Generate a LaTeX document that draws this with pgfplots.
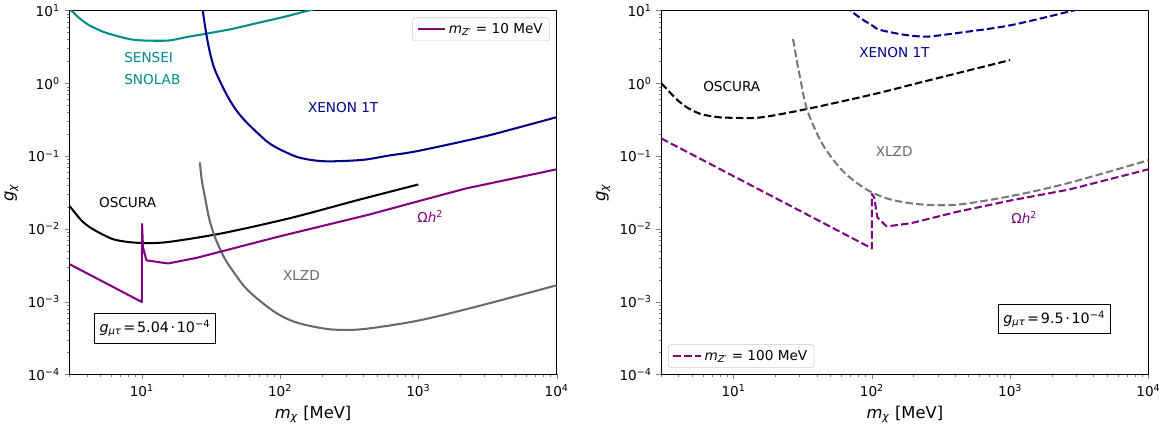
\documentclass[border=0pt]{standalone}
\usepackage{fontspec}
\setmainfont{DejaVu Sans}
\usepackage{pgfplots}
\pgfplotsset{compat=1.18}
\definecolor{mplteal}{RGB}{0,139,139}
\definecolor{mplnavy}{RGB}{0,0,139}
\definecolor{mplpurple}{RGB}{128,0,128}
\definecolor{mplgray}{RGB}{105,105,105}
\definecolor{legframe}{RGB}{204,204,204}

\tikzset{
  dashd/.style={dash pattern=on 5.5pt off 2.4pt},
  ann/.style={font=\fontsize{10}{12}\selectfont},
  gbox/.style={draw=black, line width=0.7pt, fill=white, inner xsep=3.5pt, inner ysep=4.5pt, font=\fontsize{10.5}{12}\selectfont},
}
\newcommand{\gsp}{\hspace{0.12em}}

\begin{document}
\begin{tikzpicture}
% ---------------- left panel: m_Z' = 10 MeV
\begin{axis}[
    scale only axis, width=358pt, height=267.4pt,
    xmode=log, ymode=log,
    xmin=3, xmax=10000, ymin=0.0001, ymax=10,
    axis line style={line width=0.6pt},
    tick align=outside, xtick pos=left, ytick pos=left,
    major tick length=3.6pt, minor tick length=2pt,
    xtick={10,100,1000,10000},
    xticklabels={10\textsuperscript{1},10\textsuperscript{2},10\textsuperscript{3},10\textsuperscript{4}},
    minor xtick={3,4,5,6,7,8,9,20,30,40,50,60,70,80,90,200,300,400,500,600,700,800,900,2000,3000,4000,5000,6000,7000,8000,9000},
    ytick={0.0001,0.001,0.01,0.1,1,10},
    yticklabels={10\textsuperscript{−4},10\textsuperscript{−3},10\textsuperscript{−2},10\textsuperscript{−1},10\textsuperscript{0},10\textsuperscript{1}},
    minor ytick={0.0002,0.0003,0.0004,0.0005,0.0006,0.0007,0.0008,0.0009,0.002,0.003,0.004,0.005,0.006,0.007,0.008,0.009,0.02,0.03,0.04,0.05,0.06,0.07,0.08,0.09,0.2,0.3,0.4,0.5,0.6,0.7,0.8,0.9,2,3,4,5,6,7,8,9},
    tick label style={font=\fontsize{10}{12}\selectfont},
    label style={font=\fontsize{12}{14}\selectfont},
    xlabel={\textit{m}\textsubscript{\textit{χ}} [MeV]},
    ylabel={\textit{g}\textsubscript{\textit{χ}}},
    legend cell align=left,
    legend image post style={xscale=1.18},
    legend style={at={(0.986,0.981)}, anchor=north east,
      font=\fontsize{10}{12}\selectfont, draw=legframe, rounded corners=2pt,
      fill=white, inner xsep=3pt, inner ysep=2pt}]
  \addplot[mplteal, line width=1.5pt, smooth, tension=0.5, forget plot] coordinates {
    (3.0,11.0) (3.1,10) (3.5,8.0) (4.1,6.4) (4.8,5.5) (5.6,4.9) (7,4.35)
    (8.5,4.0) (10.4,3.88) (13,3.85) (16.1,3.9) (21.5,4.35) (29,4.8)
    (45,5.6) (67.6,6.7) (110,8.3) (160,10) (200,11)};
  \addplot[mplnavy, line width=1.5pt, smooth, tension=0.5, forget plot] coordinates {
    (27.2,12) (27.6,10) (29.2,4.91) (30.8,2.88) (32.8,1.8) (35.5,1.23)
    (41.9,0.652) (49,0.41) (58.5,0.279) (81.7,0.155) (105,0.118)
    (135,0.0964) (180,0.087) (235,0.0848) (400,0.089) (608,0.1016)
    (1000,0.118) (2820,0.181) (5000,0.24) (10000,0.343)};
  \addplot[black, line width=1.5pt, smooth, tension=0.5, forget plot] coordinates {
    (3,0.0207) (3.3,0.0165) (3.7,0.0128) (4.27,0.01035) (5.2,0.0084) (6.31,0.00714)
    (8,0.0066) (9.84,0.00641) (12.5,0.0064) (17.2,0.00678) (39.6,0.00883)
    (121,0.01422) (368,0.025) (1000,0.0408)};
  \addplot[mplgray, line width=1.5pt, smooth, tension=0.5, forget plot] coordinates {
    (26.3,0.082) (27.2,0.0458) (28.9,0.025) (30.8,0.0135) (34,0.0075)
    (39.6,0.00398) (46.5,0.0025) (55.4,0.0016) (67.6,0.00112)
    (91.5,0.00072) (120,0.00055) (160,0.00047) (240,0.000414)
    (400,0.00042) (1000,0.00055) (2820,0.000885) (10000,0.00168)};
  \addplot[mplpurple, line width=1.5pt, line join=round] coordinates {
    (3,0.00328) (10,0.00099) (10.05,0.0117) (10.2,0.0056) (10.8,0.0037)
    (15.5,0.00335) (24.9,0.0040) (98,0.00785) (437,0.01567) (1000,0.024)
    (2200,0.0359) (10000,0.0659)};
  \addlegendentry{\textit{m}\textsubscript{\textit{Z}′} = 10 MeV}

  \node[ann, mplteal, anchor=west] at (axis cs:6.9,2.28) {SENSEI};
  \node[ann, mplteal, anchor=west] at (axis cs:6.9,1.14) {SNOLAB};
  \node[ann, mplnavy] at (axis cs:286,0.462) {XENON 1T};
  \node[ann, black] at (axis cs:7.9,0.0232) {OSCURA};
  \node[ann, mplpurple] at (axis cs:1220,0.0149) {Ω\textit{h}\textsuperscript{2}};
  \node[ann, mplgray] at (axis cs:142.6,0.0023) {XLZD};
  \node[gbox] at (axis cs:12.47,0.000428)
    {\textit{g}\textsubscript{\textit{μτ}}\gsp=\gsp5.04\gsp·\gsp10\textsuperscript{−4}};
\end{axis}

% ---------------- right panel: m_Z' = 100 MeV
\begin{axis}[at={(434.9pt,0pt)},
    scale only axis, width=358pt, height=267.4pt,
    xmode=log, ymode=log,
    xmin=3, xmax=10000, ymin=0.0001, ymax=10,
    axis line style={line width=0.6pt},
    tick align=outside, xtick pos=left, ytick pos=left,
    major tick length=3.6pt, minor tick length=2pt,
    xtick={10,100,1000,10000},
    xticklabels={10\textsuperscript{1},10\textsuperscript{2},10\textsuperscript{3},10\textsuperscript{4}},
    minor xtick={3,4,5,6,7,8,9,20,30,40,50,60,70,80,90,200,300,400,500,600,700,800,900,2000,3000,4000,5000,6000,7000,8000,9000},
    ytick={0.0001,0.001,0.01,0.1,1,10},
    yticklabels={10\textsuperscript{−4},10\textsuperscript{−3},10\textsuperscript{−2},10\textsuperscript{−1},10\textsuperscript{0},10\textsuperscript{1}},
    minor ytick={0.0002,0.0003,0.0004,0.0005,0.0006,0.0007,0.0008,0.0009,0.002,0.003,0.004,0.005,0.006,0.007,0.008,0.009,0.02,0.03,0.04,0.05,0.06,0.07,0.08,0.09,0.2,0.3,0.4,0.5,0.6,0.7,0.8,0.9,2,3,4,5,6,7,8,9},
    tick label style={font=\fontsize{10}{12}\selectfont},
    label style={font=\fontsize{12}{14}\selectfont},
    xlabel={\textit{m}\textsubscript{\textit{χ}} [MeV]},
    ylabel={\textit{g}\textsubscript{\textit{χ}}},
    legend cell align=left,
    legend image post style={xscale=1.18},
    legend style={at={(0.014,0.018)}, anchor=south west,
      font=\fontsize{10}{12}\selectfont, draw=legframe, rounded corners=2pt,
      fill=white, inner xsep=3pt, inner ysep=2pt}]
  \addplot[mplnavy, line width=1.5pt, dashd, smooth, tension=0.5, forget plot] coordinates {
    (64,11.5) (69.8,10) (85,7.6) (103,6.06) (113,5.46) (160,4.75) (209,4.45)
    (260,4.4) (409,4.9) (1000,6.27) (2858,10) (3500,11)};
  \addplot[black, line width=1.5pt, dashd, smooth, tension=0.5, forget plot] coordinates {
    (3,1.0) (3.4,0.78) (3.95,0.583) (4.7,0.455) (5.76,0.381) (7.5,0.345)
    (10,0.336) (15.7,0.34) (33.1,0.44) (100,0.70) (234,1.05) (1000,2.09)};
  \addplot[mplgray!90, line width=1.5pt, dashd, smooth, tension=0.5, forget plot] coordinates {
    (26.9,4.06) (28.6,2.1) (30.5,1.11) (34.1,0.427) (43.8,0.1476)
    (61.3,0.063) (90.6,0.0352) (134,0.0256) (221,0.0218) (409,0.0215)
    (1000,0.0281) (2680,0.043) (10000,0.0879)};
  \addplot[mplpurple, line width=1.5pt, line join=round, dashd] coordinates {
    (3,0.175) (100,0.0054) (100,0.0303) (104,0.0267) (109.6,0.0144)
    (128,0.0108) (193,0.012) (409,0.0171) (1000,0.0245) (2680,0.0348)
    (10000,0.066)};
  \addlegendentry{\textit{m}\textsubscript{\textit{Z}′} = 100 MeV}

  \node[ann, mplnavy] at (axis cs:145.5,2.64) {XENON 1T};
  \node[ann, black] at (axis cs:9.7,0.91) {OSCURA};
  \node[ann, mplgray] at (axis cs:145,0.1146) {XLZD};
  \node[ann, mplpurple] at (axis cs:1265,0.0144) {Ω\textit{h}\textsuperscript{2}};
  \node[gbox] at (axis cs:2085,0.000573)
    {\textit{g}\textsubscript{\textit{μτ}}\gsp=\gsp9.5\gsp·\gsp10\textsuperscript{−4}};
\end{axis}
\end{tikzpicture}
\end{document}
